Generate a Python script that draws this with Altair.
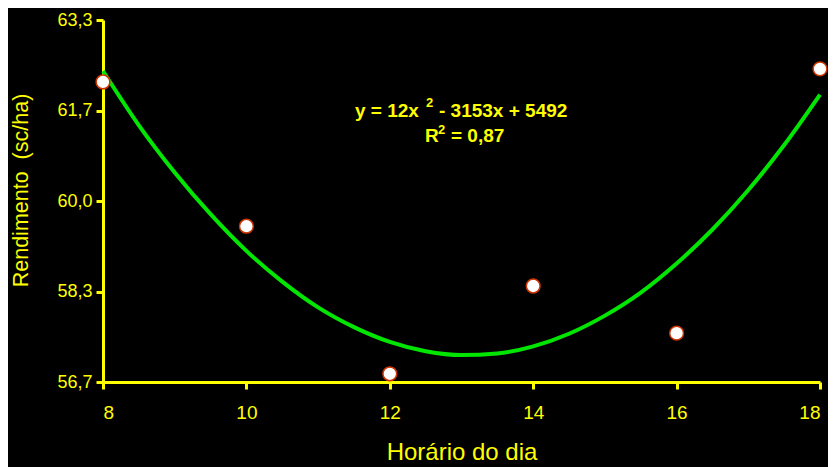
import altair as alt
import pandas as pd

# Observed data (hour of day, yield sc/ha)
hours = [8, 10, 12, 14, 16, 18]
yields = [62.17, 59.54, 56.85, 58.45, 57.59, 62.41]

# Fitted curve
curve_x = [8, 8.5, 9, 9.5, 10, 10.5, 11, 11.5, 12, 12.5, 13, 13.5, 14, 14.5, 15, 15.5, 16, 16.5, 17, 17.5, 18]
curve_y = [62.37, 61.38, 60.52, 59.76, 59.09, 58.53, 58.06, 57.70, 57.43, 57.26, 57.19, 57.22, 57.35,
           57.58, 57.91, 58.33, 58.86, 59.48, 60.20, 61.02, 61.94]

x_ticks = [8, 10, 12, 14, 16, 18]
y_ticks = [56.7, 58.35, 60.0, 61.65, 63.3]
y_labels = ["56,7", "58,3", "60,0", "61,7", "63,3"]

# equation pieces: main text, superscript, rest
eq_main = ["y = 12x", "R"]
eq_sup = ["2", "2"]
eq_rest = ["- 3153x + 5492", "= 0,87"]

y_title = "Rendimento\u00a0\u00a0(sc/ha)"
x_title = "Horário do dia"

pts = pd.DataFrame({"h": hours, "r": yields})
cur = pd.DataFrame({"h": curve_x, "r": curve_y})

YEL = "#FFFF00"
FONT = "Liberation Sans"

label_expr = "[" + ",".join(f"'{l}'" for l in y_labels) + "][indexof([" + ",".join(str(v) for v in y_ticks) + "], datum.value)]"

xenc = alt.X("h:Q", scale=alt.Scale(domain=[8, 18], nice=False, zero=False),
             axis=alt.Axis(values=x_ticks, title=x_title, format="d",
                           labelFontSize=19, titleFontSize=24, labelPadding=14, titlePadding=18,
                           tickSize=7, tickWidth=3, domainWidth=3, tickColor=YEL, domainColor=YEL,
                           labelColor=YEL, titleColor=YEL, titleFontWeight="normal", grid=False))
yenc = alt.Y("r:Q", scale=alt.Scale(domain=[56.7, 63.3], nice=False, zero=False),
             axis=alt.Axis(values=y_ticks, labelExpr=label_expr, title=y_title,
                           labelFontSize=18, titleFontSize=21.5, labelPadding=4,
                           titleX=-82, titleY=170, titleAngle=-90, titleAlign="center",
                           titleBaseline="middle",
                           tickSize=7, tickWidth=3, domainWidth=3, tickColor=YEL, domainColor=YEL,
                           labelColor=YEL, titleColor=YEL, titleFontWeight="normal", grid=False))

line = alt.Chart(cur).mark_line(color="#00E600", strokeWidth=4, interpolate="monotone").encode(x=xenc, y=yenc)
points = alt.Chart(pts).mark_point(filled=True, fill="white", stroke="#CC3300", strokeWidth=1.5,
                                   size=190, opacity=1, shape="circle").encode(x="h:Q", y="r:Q")


def txt(s, x, y, size):
    return alt.Chart(pd.DataFrame({"t": [s]})).mark_text(
        fontSize=size, fontWeight="bold", color=YEL, font=FONT, align="left", baseline="middle").encode(
        text="t:N", x=alt.value(x), y=alt.value(y))


texts = [
    txt(eq_main[0], 252, 91, 19),
    txt(eq_sup[0], 323, 83, 13),
    txt(eq_rest[0], 336, 91, 19),
    txt(eq_main[1], 322, 116, 19),
    txt(eq_sup[1], 335, 110, 13),
    txt(eq_rest[1], 348, 116, 19),
]

chart = alt.layer(line, points, *texts).properties(
    width=717, height=362,
    autosize=alt.AutoSizeParams(type="none"),
    padding={"left": 95, "top": 12, "right": 8, "bottom": 85},
    background="black",
).configure_view(stroke=None).configure_axis(
    labelFont=FONT, titleFont=FONT)

chart.save("out.html", embed_options={"renderer": "svg", "actions": False})
